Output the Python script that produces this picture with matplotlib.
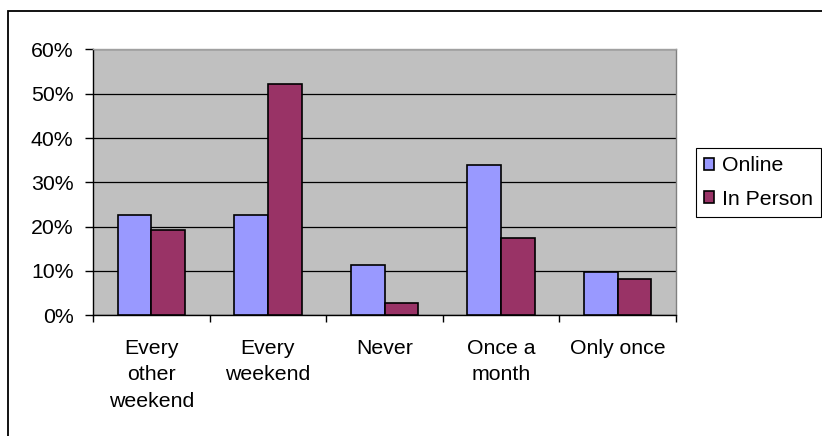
import matplotlib
matplotlib.use("Agg")
import matplotlib.pyplot as plt
from matplotlib.patches import Rectangle
from matplotlib.ticker import FuncFormatter, FixedLocator
import numpy as np

categories = ["Every\nother\nweekend", "Every\nweekend", "Never", "Once a\nmonth", "Only once"]
online = [22.5, 22.5, 11.2, 33.8, 9.7]
in_person = [19.1, 52.3, 2.6, 17.4, 8.2]
series_names = ["Online", "In Person"]
y_ticks = [0, 10, 20, 30, 40, 50, 60]

plt.rcParams['font.family'] = ['Liberation Sans', 'DejaVu Sans']
FS = 15.3
plt.rcParams['font.size'] = FS

W, H = 822, 436
fig = plt.figure(figsize=(W / 100, H / 100), dpi=100)
ax = fig.add_axes([93 / W, 1 - 315 / H, (676 - 93) / W, (315 - 49.5) / H])
ax.set_facecolor('#C0C0C0')

x = np.arange(len(categories))
bw = 0.289
ax.bar(x - bw / 2, online, bw, color='#9999FF', edgecolor='black', linewidth=1.2, zorder=3)
ax.bar(x + bw / 2, in_person, bw, color='#993366', edgecolor='black', linewidth=1.2, zorder=3)

ax.set_xlim(-0.5, len(categories) - 0.5)
ax.set_ylim(0, 60)
ax.set_yticks(y_ticks)
ax.yaxis.set_major_formatter(FuncFormatter(lambda v, p: f"{v:.0f}%"))
ax.grid(axis='y', color='black', linewidth=0.9, zorder=1)
ax.set_axisbelow(True)

ax.xaxis.set_major_locator(FixedLocator(np.arange(-0.5, len(categories), 1.0)))
ax.xaxis.set_minor_locator(FixedLocator(x))
ax.set_xticklabels([])
ax.set_xticklabels(categories, minor=True)
ax.tick_params(axis='x', which='major', length=5, width=1, direction='out', color='black')
ax.tick_params(axis='x', which='minor', length=0, pad=17, labelsize=FS)
ax.tick_params(axis='y', length=6, width=1, direction='out', pad=8, labelsize=FS)

for lbl in ax.get_xticklabels(minor=True):
    lbl.set_linespacing(1.5)
    lbl.set_horizontalalignment('center')

ax.spines['left'].set_color('black')
ax.spines['bottom'].set_color('black')
ax.spines['top'].set_color('#A0A0A0')
ax.spines['right'].set_color('#808080')
for s in ax.spines.values():
    s.set_linewidth(1)

handles = [Rectangle((0, 0), 1, 1, facecolor='#9999FF', edgecolor='black', linewidth=1.2),
           Rectangle((0, 0), 1, 1, facecolor='#993366', edgecolor='black', linewidth=1.2)]
hsz = 10.4 / (FS * 100 / 72)
leg = fig.legend(handles, series_names, loc='upper left',
                 bbox_to_anchor=(696 / W, 1 - 148 / H), borderaxespad=0,
                 fancybox=False, frameon=True, edgecolor='black', framealpha=1,
                 handlelength=hsz, handleheight=hsz, handletextpad=0.35,
                 borderpad=0.38, labelspacing=0.68, fontsize=FS)
leg.get_frame().set_linewidth(0.8)

fig.patches.append(Rectangle((8 / W, -0.2), 1.5, (H - 11) / H + 0.2, transform=fig.transFigure,
                             fill=False, edgecolor='black', linewidth=1.3))

fig.savefig('out.png', dpi=100)
